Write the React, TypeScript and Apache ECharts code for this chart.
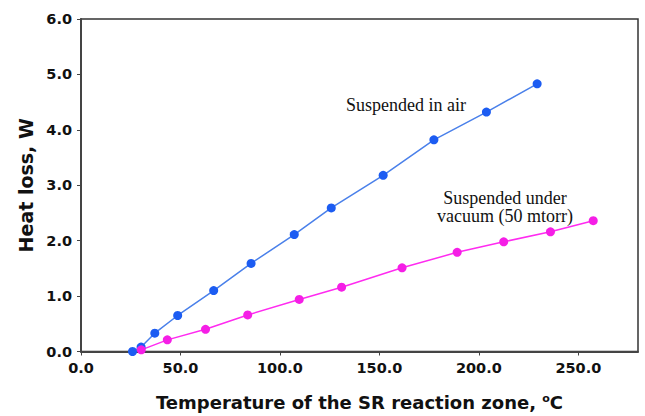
import React, { useEffect, useRef } from "react";
import * as echarts from "echarts";

const airTemp = [25.9, 30.2, 37.1, 48.6, 66.7, 85.5, 107.2, 125.8, 151.9, 177.4, 203.8, 229.3];
const airLoss = [0.0, 0.08, 0.33, 0.65, 1.1, 1.59, 2.11, 2.59, 3.18, 3.82, 4.32, 4.83];
const vacTemp = [30.3, 43.4, 62.6, 83.8, 109.7, 131.0, 161.4, 189.1, 212.5, 236.0, 257.5];
const vacLoss = [0.03, 0.21, 0.4, 0.66, 0.94, 1.16, 1.51, 1.79, 1.98, 2.16, 2.36];

const xTitle = "Temperature of the SR reaction zone, {sup|o}C";
const yTitle = "Heat loss, W";
const airLabel = "Suspended in air";
const vacLabel1 = "Suspended under";
const vacLabel2 = "vacuum (50 mtorr)";

export default function App() {
  const ref = useRef<HTMLDivElement>(null);
  useEffect(() => {
    if (!ref.current) return;
    const chart = echarts.init(ref.current, undefined, { renderer: "svg" });
    const sansBold = { fontFamily: "DejaVu Sans", fontWeight: "bold" as const, color: "#111" };
    const serifFont = "18px 'Liberation Serif', 'Times New Roman', serif";
    chart.setOption({
      animation: false,
      backgroundColor: "#fff",
      grid: {
        left: 81,
        right: 7,
        top: 19,
        bottom: 63,
        show: true,
        borderColor: "#333",
        borderWidth: 1.5,
      },
      xAxis: {
        type: "value",
        min: 0,
        max: 280,
        interval: 50,
        name: xTitle,
        nameLocation: "middle",
        nameGap: 41,
        nameTextStyle: {
          ...sansBold,
          fontSize: 18,
          rich: {
            sup: { ...sansBold, fontSize: 11, verticalAlign: "top", padding: [0, 0, 8, 0] },
          },
        },
        axisLine: { show: true, lineStyle: { color: "#444", width: 2 } },
        axisTick: { show: true, length: 4, lineStyle: { color: "#444" } },
        splitLine: { show: false },
        axisLabel: {
          ...sansBold,
          fontSize: 14.5,
          margin: 9,
          showMaxLabel: false,
          formatter: (v: number) => v.toFixed(1),
        },
      },
      yAxis: {
        type: "value",
        min: 0,
        max: 6,
        interval: 1,
        name: yTitle,
        nameLocation: "middle",
        nameGap: 46,
        nameTextStyle: { ...sansBold, fontSize: 19 },
        axisLine: { show: true, lineStyle: { color: "#444", width: 2 } },
        axisTick: { show: true, length: 4, lineStyle: { color: "#444" } },
        splitLine: { show: false },
        axisLabel: {
          ...sansBold,
          fontSize: 14.5,
          margin: 9,
          formatter: (v: number) => v.toFixed(1),
        },
      },
      series: [
        {
          type: "line",
          name: airLabel,
          data: airTemp.map((t, i) => [t, airLoss[i]]),
          symbol: "circle",
          symbolSize: 9,
          lineStyle: { color: "#4a80ea", width: 1.5 },
          itemStyle: { color: "#1c5cf2" },
        },
        {
          type: "line",
          name: vacLabel2,
          data: vacTemp.map((t, i) => [t, vacLoss[i]]),
          symbol: "circle",
          symbolSize: 9,
          lineStyle: { color: "#ff2bf0", width: 1.5 },
          itemStyle: { color: "#f51ee6" },
        },
      ],
      graphic: [
        {
          type: "text",
          x: 346,
          y: 105,
          style: { text: airLabel, font: serifFont, fill: "#111", verticalAlign: "middle" },
        },
        {
          type: "text",
          x: 505,
          y: 198,
          style: { text: vacLabel1, font: serifFont, fill: "#111", align: "center", verticalAlign: "middle" },
        },
        {
          type: "text",
          x: 505,
          y: 216,
          style: { text: vacLabel2, font: serifFont, fill: "#111", align: "center", verticalAlign: "middle" },
        },
      ],
    });
    return () => chart.dispose();
  }, []);
  return <div ref={ref} style={{ width: 645, height: 416, position: "absolute", left: 0, top: 0 }} />;
}
